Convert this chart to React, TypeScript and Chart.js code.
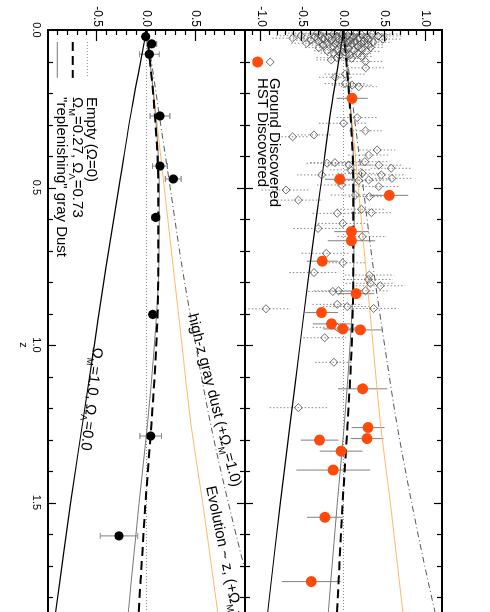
import React, { useEffect, useRef } from 'react';
import { Chart, registerables } from 'chart.js';
Chart.register(...registerables);

const FONT = "'Liberation Sans', Arial, Helvetica, sans-serif";

// ---------- model curves (Δ(m-M) relative to empty universe) ----------
const zGrid = [0, 0.1, 0.25, 0.5, 0.75, 1.0, 1.25, 1.5, 1.75, 2.0];
const emptyModel = [0, 0, 0, 0, 0, 0, 0, 0, 0, 0];
const lcdmModel = [0, 0.035, 0.08, 0.12, 0.12, 0.1, 0.05, -0.01, -0.06, -0.11];
const dustReplenishModel = [0, 0.035, 0.085, 0.13, 0.125, 0.08, 0.01, -0.075, -0.155, -0.23];
const omegaM1Model = [0, -0.06, -0.15, -0.28, -0.41, -0.53, -0.65, -0.77, -0.88, -0.99];
const evolutionModel = [0, 0.035, 0.09, 0.18, 0.27, 0.36, 0.45, 0.57, 0.68, 0.79];
const highzDustModel = [0, 0.05, 0.12, 0.24, 0.36, 0.5, 0.65, 0.83, 1.03, 1.25];

// ---------- HST discovered SNe ----------
const hstZ = [0.217, 0.474, 0.525, 0.64, 0.669, 0.734, 0.837, 0.897, 0.933, 0.949, 0.952, 1.139, 1.262, 1.297, 1.302, 1.337, 1.397, 1.547, 1.751];
const hstDm = [0.105, -0.045, 0.558, 0.097, 0.097, -0.258, 0.154, -0.267, -0.145, -0.008, 0.206, 0.234, 0.299, 0.287, -0.291, -0.028, -0.125, -0.226, -0.392];
const hstErr = [0.19, 0.18, 0.23, 0.21, 0.29, 0.19, 0.22, 0.2, 0.23, 0.24, 0.26, 0.3, 0.2, 0.2, 0.23, 0.26, 0.45, 0.22, 0.36];

// ---------- Ground discovered SNe ----------
const groundZ = [
  0.010, 0.011, 0.012, 0.013, 0.014, 0.015, 0.016, 0.017, 0.018, 0.019,
  0.020, 0.021, 0.022, 0.023, 0.024, 0.025, 0.026, 0.027, 0.028, 0.029,
  0.030, 0.031, 0.032, 0.033, 0.034, 0.035, 0.036, 0.037, 0.038, 0.039,
  0.040, 0.041, 0.042, 0.043, 0.044, 0.045, 0.047, 0.048, 0.050, 0.052,
  0.053, 0.055, 0.056, 0.058, 0.060, 0.062, 0.064, 0.066, 0.068, 0.070,
  0.073, 0.075, 0.078, 0.081, 0.084, 0.088, 0.090, 0.095, 0.100, 0.120,
  0.140, 0.150, 0.170, 0.175, 0.180, 0.278, 0.296, 0.320, 0.333, 0.339,
  0.381, 0.397, 0.418, 0.421, 0.423, 0.429, 0.429, 0.439, 0.444, 0.455,
  0.460, 0.460, 0.471, 0.476, 0.478, 0.492, 0.497, 0.508, 0.524, 0.529,
  0.540, 0.569, 0.580, 0.582, 0.614, 0.630, 0.656, 0.709, 0.739, 0.770,
  0.778, 0.792, 0.804, 0.812, 0.828, 0.828, 0.830, 0.871, 0.878, 0.884,
  0.885, 0.944, 0.977, 1.055, 1.199,
];
const groundDm = [
  -0.32, 0.15, -0.12, 0.35, -0.02, 0.22, -0.28, 0.05, -0.52, 0.42,
  -0.08, 0.12, -0.35, 0.28, -0.18, 0.02, -0.62, 0.18, -0.25, 0.48,
  -0.05, 0.30, -0.40, 0.08, -0.15, 0.25, -0.30, 0.14, -0.02, 0.36,
  -0.20, 0.05, -0.45, 0.22, -0.10, 0.10, 0.30, -0.25, 0.00, 0.18,
  -0.12, 0.33, -0.30, 0.06, 0.22, -0.08, 0.12, -0.20, 0.28, 0.02,
  -0.12, 0.18, 0.08, -0.05, 0.22, -0.08, 0.10, -0.15, 0.27, 0.27,
  0.02, -0.10, 0.02, 0.105, 0.186, 0.166, 0.0, 0.267, -0.36, -0.62,
  0.41, 0.307, 0.26, -0.105, -0.2, 0.065, 0.43, 0.58, 0.085, 0.227,
  0.46, -0.267, 0.59, 0.307, 0.185, -0.024, 0.43, -0.70, 0.145, 0.315,
  -0.55, 0.218, 0.34, -0.077, -0.01, -0.31, 0.227, -0.21, -0.01, -0.36,
  0.315, 0.30, 0.327, 0.448, -0.06, 0.267, -0.13, -0.077, 0.045, 0.367,
  -0.945, -0.077, -0.23, -0.117, -0.55,
];
const groundErr = [
  0.40, 0.38, 0.36, 0.35, 0.34, 0.33, 0.32, 0.30, 0.30, 0.29,
  0.28, 0.27, 0.27, 0.26, 0.26, 0.25, 0.25, 0.24, 0.24, 0.23,
  0.23, 0.22, 0.22, 0.22, 0.21, 0.21, 0.21, 0.20, 0.20, 0.20,
  0.20, 0.19, 0.19, 0.19, 0.19, 0.18, 0.18, 0.18, 0.18, 0.18,
  0.17, 0.17, 0.17, 0.17, 0.17, 0.17, 0.16, 0.16, 0.16, 0.16,
  0.16, 0.16, 0.15, 0.15, 0.15, 0.25, 0.15, 0.18, 0.20, 0.22,
  0.25, 0.20, 0.25, 0.25, 0.22, 0.25, 0.30, 0.20, 0.20, 0.18,
  0.22, 0.25, 0.30, 0.30, 0.25, 0.30, 0.30, 0.25, 0.25, 0.30,
  0.30, 0.30, 0.25, 0.30, 0.30, 0.30, 0.25, 0.30, 0.30, 0.25,
  0.30, 0.30, 0.25, 0.30, 0.30, 0.30, 0.30, 0.30, 0.30, 0.30,
  0.30, 0.30, 0.30, 0.30, 0.30, 0.30, 0.30, 0.30, 0.30, 0.30,
  0.30, 0.30, 0.26, 0.23, 0.35,
];

// ---------- binned data (lower panel) ----------
const binZ = [0.021, 0.044, 0.077, 0.273, 0.432, 0.473, 0.595, 0.903, 1.289, 1.606];
const binDm = [-0.008, 0.053, 0.029, 0.137, 0.137, 0.272, 0.093, 0.063, 0.043, -0.279];
const binErr = [0.02, 0.05, 0.1, 0.1, 0.076, 0.08, 0.04, 0.03, 0.11, 0.19];

// ---------- axes ----------
const zTicks = [0, 0.5, 1.0, 1.5, 2.0];
const topTickLabels = [-1.0, -0.5, 0.0, 0.5, 1.0];
const botTickLabels = [-0.5, 0.0, 0.5];

const W = 700;
const H = 490;

type Part = { t: string; sub?: boolean };

function pts(xs: number[], ys: number[]) {
  return xs.map((x, i) => ({ x, y: ys[i] }));
}

const ERR: Record<string, { errs: number[]; color: string; width: number; dash: number[]; cap: number }> = {
  'Ground Discovered': { errs: groundErr, color: '#8a8a8a', width: 1, dash: [1.5, 2], cap: 0 },
  'HST Discovered': { errs: hstErr, color: '#8c8c8c', width: 1.1, dash: [], cap: 0 },
  Binned: { errs: binErr, color: '#8c8c8c', width: 1.1, dash: [], cap: 3 },
};

function drawRich(ctx: CanvasRenderingContext2D, parts: Part[], x: number, y: number, angleDeg: number, size: number) {
  ctx.save();
  ctx.translate(x, y);
  ctx.rotate((angleDeg * Math.PI) / 180);
  ctx.fillStyle = '#000';
  ctx.textBaseline = 'alphabetic';
  ctx.textAlign = 'left';
  let cx = 0;
  for (const p of parts) {
    const s = p.sub ? size * 0.62 : size;
    ctx.font = `${s}px ${FONT}`;
    ctx.fillText(p.t, cx, p.sub ? size * 0.28 : 0);
    cx += ctx.measureText(p.t).width;
  }
  ctx.restore();
}

const errPlugin = {
  id: 'errbars',
  beforeDatasetsDraw(chart: any) {
    const ctx: CanvasRenderingContext2D = chart.ctx;
    chart.data.datasets.forEach((ds: any, i: number) => {
      const spec = ERR[ds.label];
      if (!spec) return;
      const meta = chart.getDatasetMeta(i);
      const xs = chart.scales[meta.xAxisID];
      const ys = chart.scales[meta.yAxisID];
      ctx.save();
      ctx.beginPath();
      ctx.rect(xs.left, ys.top, xs.right - xs.left, ys.bottom - ys.top);
      ctx.clip();
      ctx.strokeStyle = spec.color;
      ctx.lineWidth = spec.width;
      ds.data.forEach((p: any, k: number) => {
        const e = spec.errs[k];
        const px = xs.getPixelForValue(p.x);
        const y1 = ys.getPixelForValue(p.y - e);
        const y2 = ys.getPixelForValue(p.y + e);
        ctx.setLineDash(spec.dash);
        ctx.beginPath();
        ctx.moveTo(px, y1);
        ctx.lineTo(px, y2);
        ctx.stroke();
        if (spec.cap) {
          ctx.setLineDash([]);
          ctx.beginPath();
          ctx.moveTo(px - spec.cap, y1);
          ctx.lineTo(px + spec.cap, y1);
          ctx.moveTo(px - spec.cap, y2);
          ctx.lineTo(px + spec.cap, y2);
          ctx.stroke();
        }
      });
      ctx.restore();
    });
  },
};

const decorPlugin = {
  id: 'decor',
  afterDatasetsDraw(chart: any) {
    const ctx: CanvasRenderingContext2D = chart.ctx;
    const x = chart.scales.x;
    const yT = chart.scales.yTop;
    const yB = chart.scales.yBot;
    const L = x.left;
    const R = x.right;
    ctx.save();
    // ticks
    ctx.strokeStyle = '#000';
    ctx.lineWidth = 1.2;
    ctx.setLineDash([]);
    const yTick = (sc: any, lo: number, hi: number) => {
      for (let k = Math.round(lo * 10) + 1; k < Math.round(hi * 10); k++) {
        const v = k / 10;
        const py = Math.round(sc.getPixelForValue(v)) + 0.5;
        const len = k % 5 === 0 ? 11 : 5;
        ctx.beginPath();
        ctx.moveTo(L, py);
        ctx.lineTo(L + len, py);
        ctx.stroke();
      }
    };
    yTick(yT, -1.2, 1.2);
    yTick(yB, -1.0, 1.0);
    for (let k = 1; k < 20; k++) {
      const px = Math.round(x.getPixelForValue(k / 10)) + 0.5;
      const len = k % 5 === 0 ? 8 : 5;
      const mid = yT.bottom;
      ctx.beginPath();
      ctx.moveTo(px, yT.top);
      ctx.lineTo(px, yT.top + len);
      ctx.moveTo(px, mid - len);
      ctx.lineTo(px, mid + len);
      ctx.moveTo(px, yB.bottom);
      ctx.lineTo(px, yB.bottom - len);
      ctx.stroke();
    }
    // frame
    ctx.lineWidth = 2;
    ctx.beginPath();
    ctx.moveTo(R + 5, yT.top);
    ctx.lineTo(L, yT.top);
    ctx.lineTo(L, yB.bottom);
    ctx.lineTo(R + 5, yB.bottom);
    ctx.moveTo(L, yT.bottom);
    ctx.lineTo(R + 5, yT.bottom);
    ctx.stroke();

    // upper legend
    const lx = x.getPixelForValue(0.1016);
    const gy = yT.getPixelForValue(-0.893);
    const hy = yT.getPixelForValue(-1.046);
    ctx.strokeStyle = '#444';
    ctx.lineWidth = 0.8;
    ctx.beginPath();
    ctx.moveTo(lx, gy - 4);
    ctx.lineTo(lx + 4, gy);
    ctx.lineTo(lx, gy + 4);
    ctx.lineTo(lx - 4, gy);
    ctx.closePath();
    ctx.stroke();
    ctx.fillStyle = '#ff4a0a';
    ctx.beginPath();
    ctx.arc(lx, hy, 5.5, 0, Math.PI * 2);
    ctx.fill();
    const tx = x.getPixelForValue(0.152);
    drawRich(ctx, [{ t: 'Ground Discovered' }], tx, gy, 0, 15);
    drawRich(ctx, [{ t: 'HST Discovered' }], tx, hy, 0, 15);

    // lower legend
    const sx1 = x.getPixelForValue(0.038);
    const sx2 = x.getPixelForValue(0.152);
    const tx2 = x.getPixelForValue(0.213);
    const r1 = yB.getPixelForValue(-0.601);
    const r2 = yB.getPixelForValue(-0.749);
    const r3 = yB.getPixelForValue(-0.906);
    ctx.lineWidth = 1;
    ctx.strokeStyle = '#888';
    ctx.setLineDash([1, 2]);
    ctx.beginPath();
    ctx.moveTo(sx1, r1);
    ctx.lineTo(sx2, r1);
    ctx.stroke();
    ctx.strokeStyle = '#000';
    ctx.lineWidth = 2;
    ctx.setLineDash([9, 5]);
    ctx.beginPath();
    ctx.moveTo(sx1, r2);
    ctx.lineTo(sx2, r2);
    ctx.stroke();
    ctx.strokeStyle = '#777';
    ctx.lineWidth = 1;
    ctx.setLineDash([]);
    ctx.beginPath();
    ctx.moveTo(sx1, r3);
    ctx.lineTo(sx2, r3);
    ctx.stroke();
    drawRich(ctx, [{ t: 'Empty (\u03A9=0)' }], tx2, r1, 0, 15);
    drawRich(ctx, [{ t: '\u03A9' }, { t: 'M', sub: true }, { t: '=0.27, \u03A9' }, { t: '\u039B', sub: true }, { t: '=0.73' }], tx2, r2, 0, 15);
    drawRich(ctx, [{ t: '"replenishing" gray Dust' }], tx2, r3, 0, 15);

    // curve annotations (lower panel)
    ctx.save();
    ctx.beginPath();
    ctx.rect(L, yB.top, R - L, yB.bottom - yB.top);
    ctx.clip();
    drawRich(ctx, [{ t: '\u03A9' }, { t: 'M', sub: true }, { t: '=1.0, \u03A9' }, { t: '\u039B', sub: true }, { t: '=0.0' }],
      x.getPixelForValue(1.006), yB.getPixelForValue(-0.543), 6.6, 15);
    drawRich(ctx, [{ t: 'high-z gray dust (+\u03A9' }, { t: 'M', sub: true }, { t: '=1.0)' }],
      x.getPixelForValue(0.905), yB.getPixelForValue(0.421), -14.4, 15);
    drawRich(ctx, [{ t: 'Evolution ~ z, (+\u03A9' }, { t: 'M', sub: true }, { t: '=1.0)' }],
      x.getPixelForValue(1.451), yB.getPixelForValue(0.604), -11.7, 15);
    ctx.restore();
    ctx.restore();
  },
};

function curveSets(axis: 'yTop' | 'yBot') {
  const base = { showLine: true, pointRadius: 0, fill: false, yAxisID: axis, xAxisID: 'x', cubicInterpolationMode: 'monotone' as const };
  return [
    { ...base, label: 'Empty ' + axis, data: pts(zGrid, emptyModel), borderColor: '#8a8a8a', borderWidth: 1, borderDash: [1, 2], order: 20 },
    { ...base, label: 'Evolution ' + axis, data: pts(zGrid, evolutionModel), borderColor: '#ffb866', borderWidth: 1, order: 19 },
    { ...base, label: 'HighzDust ' + axis, data: pts(zGrid, highzDustModel), borderColor: '#555', borderWidth: 1, borderDash: [6, 3, 1, 3], order: 18 },
    { ...base, label: 'OmegaM1 ' + axis, data: pts(zGrid, omegaM1Model), borderColor: '#000', borderWidth: 1.2, order: 17 },
    { ...base, label: 'Replenish ' + axis, data: pts(zGrid, dustReplenishModel), borderColor: '#777', borderWidth: 1, order: 16 },
    { ...base, label: 'LCDM ' + axis, data: pts(zGrid, lcdmModel), borderColor: '#000', borderWidth: 2, borderDash: [9, 5], order: 15 },
  ];
}

export default function App() {
  const ref = useRef<HTMLCanvasElement>(null);
  useEffect(() => {
    if (!ref.current) return;
    const chart = new Chart(ref.current, {
      type: 'scatter',
      data: {
        datasets: [
          ...curveSets('yTop'),
          ...curveSets('yBot'),
          {
            label: 'Ground Discovered', data: pts(groundZ, groundDm), xAxisID: 'x', yAxisID: 'yTop',
            pointStyle: 'rectRot', pointRadius: 4, borderColor: '#444', borderWidth: 0.8,
            backgroundColor: 'rgba(255,255,255,0)', order: 5,
          } as any,
          {
            label: 'HST Discovered', data: pts(hstZ, hstDm), xAxisID: 'x', yAxisID: 'yTop',
            pointStyle: 'circle', pointRadius: 5.5, borderWidth: 0, backgroundColor: '#ff4a0a', order: 2,
          } as any,
          {
            label: 'Binned', data: pts(binZ, binDm), xAxisID: 'x', yAxisID: 'yBot',
            pointStyle: 'circle', pointRadius: 4.6, borderWidth: 0, backgroundColor: '#000', order: 1,
          } as any,
        ],
      },
      options: {
        responsive: false,
        maintainAspectRatio: false,
        animation: false,
        devicePixelRatio: 1,
        layout: { padding: { left: 0, top: 48, right: W - 660, bottom: 0 } },
        plugins: { legend: { display: false }, tooltip: { enabled: false } },
        events: [],
        scales: {
          x: {
            type: 'linear', position: 'bottom', min: 0, max: 2.0,
            afterBuildTicks: (s: any) => { s.ticks = zTicks.map((v) => ({ value: v })); },
            afterFit: (s: any) => { s.height = 48; },
            grid: { display: false, drawTicks: false },
            border: { display: false },
            ticks: {
              font: { family: FONT, size: 11 }, color: '#000', padding: 5, maxRotation: 0,
              callback: (v: any) => Number(v).toFixed(1),
            },
            title: { display: true, text: 'z', font: { family: FONT, size: 11 }, color: '#000', padding: { top: 0, bottom: 16 } },
          },
          yBot: {
            type: 'linear', axis: 'y', position: 'left', stack: 'panels', stackWeight: 1, min: -1.0, max: 1.0,
            afterBuildTicks: (s: any) => { s.ticks = botTickLabels.map((v) => ({ value: v })); },
            afterFit: (s: any) => { s.width = 30; },
            grid: { display: false, drawTicks: false },
            border: { display: false },
            ticks: { font: { family: FONT, size: 12 }, color: '#000', padding: 3, callback: (v: any) => Number(v).toFixed(1) },
          },
          yTop: {
            type: 'linear', axis: 'y', position: 'left', stack: 'panels', stackWeight: 1, min: -1.2, max: 1.2,
            afterBuildTicks: (s: any) => { s.ticks = topTickLabels.map((v) => ({ value: v })); },
            afterFit: (s: any) => { s.width = 30; },
            grid: { display: false, drawTicks: false },
            border: { display: false },
            ticks: { font: { family: FONT, size: 12 }, color: '#000', padding: 3, callback: (v: any) => Number(v).toFixed(1) },
          },
        } as any,
      },
      plugins: [errPlugin, decorPlugin],
    } as any);
    return () => chart.destroy();
  }, []);

  return (
    <div style={{ position: 'fixed', left: 0, top: 0, width: 490, height: 612, overflow: 'hidden', background: '#fff' }}>
      <div
        style={{
          position: 'absolute', left: 0, top: 0, width: W, height: H,
          transformOrigin: '0 0', transform: 'translate(490px, 0px) rotate(90deg)',
        }}
      >
        <canvas ref={ref} width={W} height={H} style={{ width: W, height: H, display: 'block' }} />
      </div>
    </div>
  );
}
